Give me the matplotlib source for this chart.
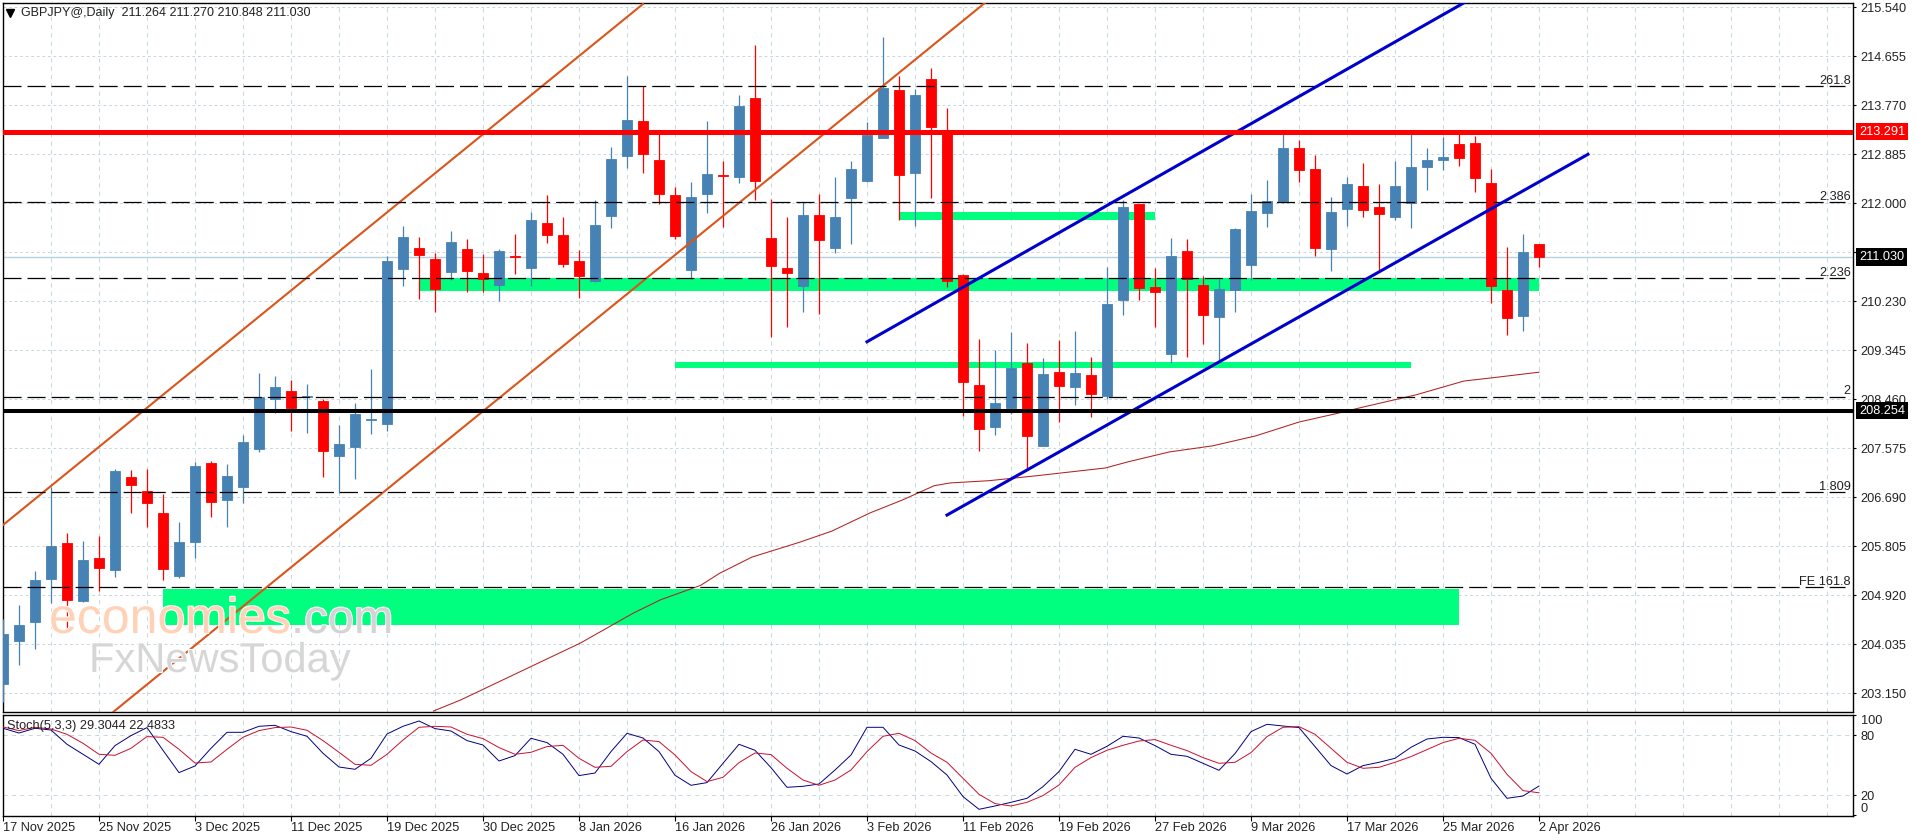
import matplotlib
matplotlib.use('Agg')
import matplotlib.pyplot as plt
import matplotlib.patheffects as pe
from matplotlib.patches import Rectangle

plt.rcParams['font.family'] = ['Liberation Sans', 'DejaVu Sans']
plt.rcParams['font.size'] = 9.2
plt.rcParams['lines.scale_dashes'] = False

W, H = 1916, 840

opens = [203.32, 204.10, 204.43, 205.22, 205.87, 204.82, 205.59, 205.38, 207.06, 206.80,
         206.40, 205.27, 205.89, 207.31, 206.65, 206.87, 207.57, 208.47, 208.61, 208.50,
         208.43, 207.44, 207.60, 208.09, 208.01, 210.81, 211.19, 211.00, 210.76, 211.17,
         210.74, 210.52, 211.05, 210.84, 211.64, 211.43, 210.96, 210.59, 211.77, 212.86,
         213.49, 212.78, 212.15, 210.80, 212.17, 212.51, 212.48, 213.90, 211.37, 210.83,
         210.51, 211.79, 211.20, 212.10, 212.41, 213.18, 214.05, 212.54, 214.25, 213.29,
         210.70, 208.72, 207.96, 208.30, 209.12, 207.62, 208.95, 208.68, 208.90, 208.52,
         210.26, 211.99, 210.49, 209.27, 211.14, 210.52, 209.95, 210.43, 210.89, 211.82,
         212.04, 213.00, 212.62, 211.17, 211.90, 212.31, 211.93, 211.75, 212.00, 212.66,
         212.79, 213.07, 213.09, 212.37, 210.43, 209.96, 211.264]
highs = [204.50, 204.75, 205.36, 206.88, 206.04, 205.90, 205.99, 207.20, 207.18, 207.20,
         206.75, 206.24, 207.33, 207.35, 207.29, 207.82, 208.94, 208.88, 208.81, 208.74,
         208.47, 207.99, 208.39, 209.00, 211.05, 211.59, 211.39, 211.10, 211.50, 211.36,
         211.09, 211.17, 211.45, 211.84, 212.15, 211.75, 211.16, 212.06, 213.02, 214.30,
         214.11, 213.25, 212.30, 212.39, 213.49, 212.76, 213.96, 214.86, 212.08, 211.75,
         212.02, 212.17, 212.48, 212.76, 213.47, 215.00, 214.30, 214.06, 214.44, 213.72,
         210.72, 209.55, 209.35, 209.68, 209.48, 209.21, 209.53, 209.69, 209.22, 210.85,
         212.06, 211.99, 210.83, 211.37, 211.36, 210.69, 210.63, 211.55, 212.17, 212.42,
         213.27, 213.14, 212.87, 212.11, 212.47, 212.73, 212.35, 212.77, 213.30, 213.00,
         213.20, 213.30, 213.22, 212.62, 211.21, 211.45, 211.27]
lows = [203.00, 203.66, 203.95, 204.78, 204.30, 204.80, 204.99, 205.25, 206.41, 206.15,
        205.20, 205.24, 205.60, 206.34, 206.16, 206.58, 207.50, 208.22, 207.88, 207.85,
        207.06, 206.76, 207.02, 207.84, 207.89, 210.51, 210.28, 210.03, 210.62, 210.40,
        210.40, 210.24, 210.72, 210.50, 211.29, 210.85, 210.29, 210.58, 211.55, 212.64,
        212.54, 211.98, 211.36, 210.64, 211.82, 211.57, 212.37, 212.06, 209.59, 209.77,
        210.04, 210.01, 211.10, 211.27, 212.39, 213.18, 211.70, 211.59, 212.10, 210.48,
        208.16, 207.53, 207.82, 208.20, 207.18, 207.62, 208.05, 208.36, 208.14, 208.46,
        209.98, 210.25, 209.77, 209.12, 209.22, 209.46, 209.17, 210.04, 210.62, 211.57,
        212.00, 212.39, 211.05, 210.78, 211.59, 211.75, 210.80, 211.70, 211.55, 212.24,
        212.60, 212.67, 212.20, 210.20, 209.63, 209.70, 210.848]
closes = [204.22, 204.39, 205.20, 205.81, 204.84, 205.56, 205.41, 207.17, 206.92, 206.58,
          205.40, 205.88, 207.26, 206.61, 207.07, 207.69, 208.51, 208.68, 208.30, 208.52,
          207.53, 207.65, 208.19, 208.11, 210.96, 211.39, 211.07, 210.46, 211.30, 210.78,
          210.63, 211.14, 211.03, 211.70, 211.43, 210.90, 210.69, 211.61, 212.80, 213.50,
          212.89, 212.17, 211.41, 212.11, 212.53, 212.50, 213.76, 212.41, 210.87, 210.74,
          211.79, 211.34, 211.75, 212.62, 213.23, 214.08, 212.52, 213.96, 213.38, 210.60,
          208.78, 207.92, 208.39, 209.03, 207.80, 208.92, 208.70, 208.94, 208.56, 210.18,
          211.93, 210.47, 210.40, 211.05, 210.63, 209.99, 210.45, 211.54, 211.86, 212.04,
          213.00, 212.60, 211.19, 211.84, 212.35, 211.88, 211.81, 212.31, 212.66, 212.78,
          212.84, 212.82, 212.46, 210.51, 209.92, 211.12, 211.03]

ma_idx = [26.9, 28.6, 36.1, 38.3, 39.4, 41.1, 43.6, 44.8, 46.8, 49.8, 51.8, 54.2, 56.2, 58.2, 59.2,
          61.6, 64.6, 68.9, 70.3, 72.9, 75.6, 78.3, 81.0, 83.3, 85.0, 88.3, 91.3, 93.4, 96.0]
ma_val = [202.83, 203.03, 204.06, 204.42, 204.60, 204.84, 205.10, 205.32, 205.61, 205.88, 206.08,
          206.41, 206.64, 206.90, 206.95, 206.99, 207.08, 207.22, 207.33, 207.51, 207.62, 207.80,
          208.05, 208.20, 208.32, 208.54, 208.79, 208.86, 208.95]

stoch_k = [87, 82.3, 87, 85.3, 71, 61, 51, 69.7, 79.7, 87.7, 65, 42.7, 49.3, 67, 83, 83, 89, 90, 83.7, 79,
           62, 48.3, 46, 57, 81.3, 89, 94.3, 86.7, 84.3, 74.7, 70.3, 54.3, 59.7,
           77, 72.7, 61, 39.7, 42.3, 63.7, 82, 77.3, 63.7, 40, 30, 32.7, 52, 71, 65, 47.7, 28, 29, 31.3,
           45.3, 60.3, 88, 88, 70.3, 64.3, 53.7, 40.3, 18.7, 6, 9.3, 13, 17,
           28.7, 43.7, 66, 61, 69, 79, 77.3, 69.7, 61, 59, 52, 45, 61.7, 83.7, 91, 89.3, 87.7, 68.7,
           49.7, 41.3, 49.7, 53, 57, 68, 76.3, 78, 77.7, 71, 37, 17, 19.3, 29.3]
stoch_d = [88.3, 84.7, 88, 86.3, 81, 72, 61, 60, 67, 78.7, 78, 66, 52.3, 53.3, 66, 78, 84.7, 87.7, 88.3, 85,
           74.7, 63, 51, 50, 61, 75.3, 88, 89, 88.3, 81, 76.7, 67.7, 61,
           63, 68.7, 70, 57, 48, 49, 63.7, 75.3, 73.7, 60.3, 43.7, 33.7, 38, 52.7, 62.3, 60.7, 47, 35.3,
           30, 35.3, 45.3, 63.7, 79, 82, 74.7, 62.3, 53, 37, 21, 11.7, 9.3, 13,
           19.7, 30.3, 48, 57.7, 65, 70, 74.3, 75.7, 70, 64.7, 57.7, 52, 53, 62.7, 78.7, 88, 88.7, 81,
           67, 53, 47, 48, 53, 58.7, 65.7, 72.7, 77, 75, 62, 41, 24.7, 22.5]

price_ticks = [215.540, 214.655, 213.770, 212.885, 212.000, 211.115, 210.230, 209.345,
               208.460, 207.575, 206.690, 205.805, 204.920, 204.035, 203.150]
date_labels = ['17 Nov 2025', '25 Nov 2025', '3 Dec 2025', '11 Dec 2025', '19 Dec 2025', '30 Dec 2025',
               '8 Jan 2026', '16 Jan 2026', '26 Jan 2026', '3 Feb 2026', '11 Feb 2026', '19 Feb 2026',
               '27 Feb 2026', '9 Mar 2026', '17 Mar 2026', '25 Mar 2026', '2 Apr 2026']

fib_levels = [214.11, 212.02, 210.645, 208.51, 206.78, 205.065]
fib_labels = ['261.8', '2.386', '2.236', '2', '1.809', 'FE 161.8']

# zones: left index, right index, top price, bottom price
zone_left = [26, 56, 42, 10]
zone_right = [96, 72, 88, 91]
zone_top = [210.645, 211.84, 209.13, 205.04]
zone_bottom = [210.42, 211.70, 209.03, 204.385]

orange_x = [[0, 40], [6.81, 61.44]]
orange_y = [[206.19, 215.60], [202.795, 215.636]]
blue_x = [[54.0, 91.3], [59.0, 99.06]]
blue_y = [[209.50, 215.62], [206.37, 212.885]]

resistance = 213.291
support = 208.254
bid = 211.030

grid_color = '#C6D8E0'
up_color = '#4682B4'
down_color = '#FF0000'


def main_axes(left, top, right, bottom):
    return [left / W, (H - bottom) / H, (right - left) / W, (bottom - top) / H]


def fig_pos(x, y):
    return x / W, 1 - y / H


fig = plt.figure(figsize=(W / 100, H / 100), dpi=100, facecolor='white')
ax = fig.add_axes(main_axes(2.5, 2.5, 1853, 712))
ax2 = fig.add_axes(main_axes(2.5, 714.5, 1853, 816))

x_min, x_max = (2.5 - 3) / 16, (1853 - 3) / 16
ax.set_xlim(x_min, x_max)
ax.set_ylim(215.672 - 712 / 55.37, 215.672 - 2.5 / 55.37)
ax2.set_xlim(x_min, x_max)
ax2.set_ylim(-0.7, 100.8)

# grid, every 3 bars
for a in (ax, ax2):
    for v in range(3, 116, 3):
        a.axvline(v, color=grid_color, lw=0.7, dashes=(3, 3), zorder=1)
    for s in a.spines.values():
        s.set_linewidth(1.0)
for p in price_ticks:
    ax.axhline(p, color=grid_color, lw=0.7, dashes=(2, 2), zorder=1)
for p in (80, 20):
    ax2.axhline(p, color=grid_color, lw=0.7, dashes=(3, 3), zorder=1)
ax.axhline(bid, color='#B5D0DE', lw=1.0, zorder=1.5)

for l, r, t, b in zip(zone_left, zone_right, zone_top, zone_bottom):
    ax.add_patch(Rectangle((l, b), r - l, t - b, facecolor='#00FF7F', edgecolor='none', zorder=2))

# candles
xs = list(range(len(opens)))
colors = [up_color if c >= o else down_color for o, c in zip(opens, closes)]
ax.vlines(xs, lows, highs, colors=colors, lw=0.9, zorder=3)
ax.bar(xs, [abs(c - o) for o, c in zip(opens, closes)], bottom=[min(o, c) for o, c in zip(opens, closes)],
       width=0.68, color=colors, edgecolor=colors, lw=0.6, zorder=3.2)

ax.plot(ma_idx, ma_val, color='#B22222', lw=0.75, zorder=3.5)

for lx, ly in zip(orange_x, orange_y):
    ax.plot(lx, ly, color='#D9551A', lw=1.5, zorder=4)
for p, lab in zip(fib_levels, fib_labels):
    ax.plot([x_min, (1845 - 3) / 16], [p, p], color='black', lw=0.9, dashes=(13, 4.3), zorder=4.2)
    ax.text((1851 - 3) / 16, p - 0.01, lab, ha='right', va='bottom', color='#222222', zorder=4.3)
for lx, ly in zip(blue_x, blue_y):
    ax.plot(lx, ly, color='#0000CD', lw=2.2, zorder=5)

ax.axhline(resistance, color='#FF0000', lw=3.6, zorder=6)
ax.axhline(support, color='black', lw=2.9, zorder=6)

ax.yaxis.tick_right()
ax.set_yticks(price_ticks)
ax.set_yticklabels([f'{p:.3f}' for p in price_ticks])
ax.tick_params(axis='y', length=2.5, width=0.8, pad=3, labelcolor='#222222')
ax.set_xticks([])

# price tags on the axis
for p, bg in ((resistance, '#FF0000'), (support, 'black'), (bid, 'black')):
    ax.annotate(f'{p:.3f}', xy=(1, p), xycoords=ax.get_yaxis_transform(), xytext=(6, 0),
                textcoords='offset pixels', va='center', ha='left', color='white', annotation_clip=False,
                bbox=dict(boxstyle='square,pad=0.2', facecolor=bg, edgecolor='none'), zorder=10)

# stochastic
ax2.plot(xs, stoch_k, color='#000080', lw=0.7, zorder=3)
ax2.plot(xs, stoch_d, color='#C8102E', lw=0.7, zorder=3.5)
ax2.yaxis.tick_right()
ax2.set_yticks([0, 20, 80, 100])
ax2.set_yticklabels(['0', '20', '80', '100'])
ax2.tick_params(axis='y', length=2.5, width=0.8, pad=3, labelcolor='#222222')
labs = ax2.get_yticklabels()
labs[0].set_verticalalignment('bottom')
labs[3].set_verticalalignment('top')
ax2.set_xticks(list(range(0, 97, 6)))
ax2.set_xticklabels(date_labels, ha='left')
ax2.tick_params(axis='x', length=3.6, width=0.8, pad=1, labelcolor='#222222')

# header texts
fig.text(*fig_pos(21, 13), 'GBPJPY@,Daily  211.264 211.270 210.848 211.030', fontsize=9, va='center', color='#222222')
ax.plot([10 / W], [1 - 13 / H], marker='v', ms=6, color='black', transform=fig.transFigure, clip_on=False)
ax2.text(*ax2.transAxes.inverted().transform(fig.transFigure.transform(fig_pos(7, 725.7))),
         'Stoch(5,3,3) 29.3044 22.4833', transform=ax2.transAxes, va='center', color='#222222', zorder=6)

# watermark
halo = [pe.withStroke(linewidth=1.5, foreground='white')]
fig.text(*fig_pos(49, 633), 'economies', fontsize=36, color='#FFD2B8', va='baseline', path_effects=halo, zorder=20)
fig.text(*fig_pos(291, 633), '.com', fontsize=34, color='#D4D4D4', va='baseline', path_effects=halo, zorder=20)
fig.text(*fig_pos(89, 672), 'FxNewsToday', fontsize=30, color='#D6D6D6', va='baseline', path_effects=halo, zorder=20)

fig.savefig('out.png', dpi=100, facecolor='white')
